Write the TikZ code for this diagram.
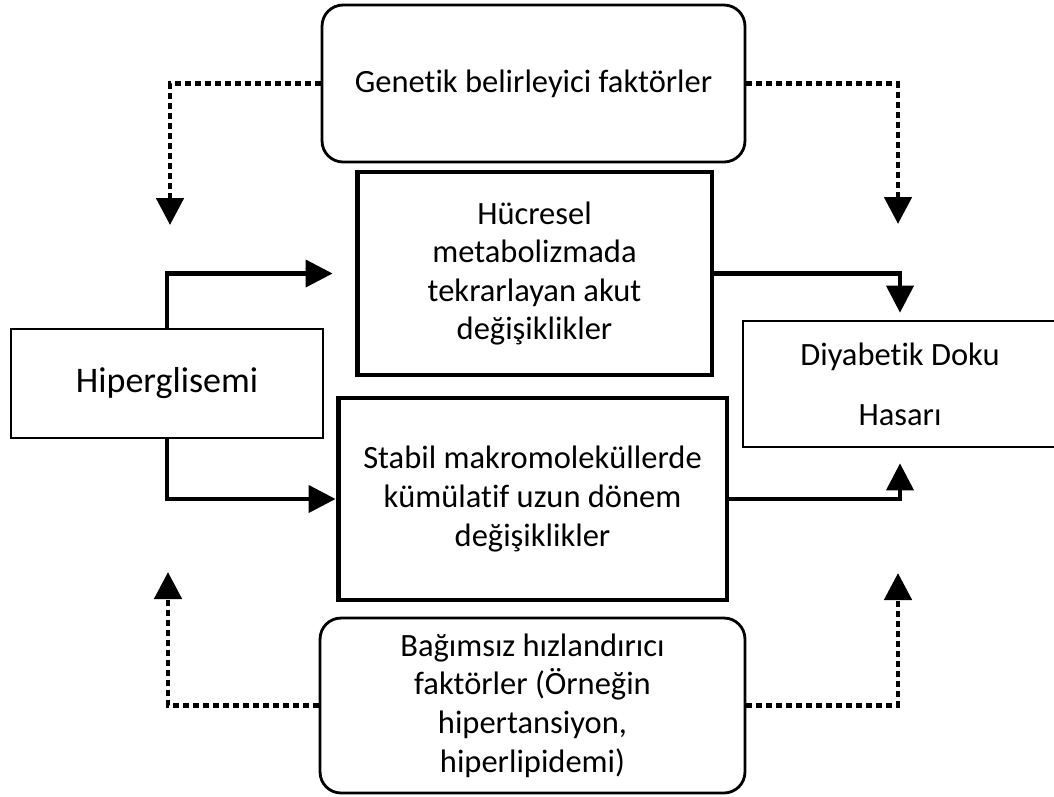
\documentclass[tikz,border=0pt]{standalone}
\usepackage{fontspec}
\setmainfont[Ligatures={NoCommon}]{Carlito}
\usetikzlibrary{arrows.meta}
\begin{document}
\begin{tikzpicture}[x=0.02cm,y=-0.02cm,
    txt/.style={align=center,font=\fontsize{18.5}{22}\selectfont,inner sep=0pt},
    roundbox/.style={txt,draw,line width=1.6pt,rounded corners=0.42cm},
    thickbox/.style={txt,draw,line width=2.8pt},
    thinbox/.style={txt,draw,line width=1pt},
    flow/.style={line width=2.3pt,-{Triangle[length=0.54cm,width=0.54cm]}},
    dotflow/.style={flow,line width=2.8pt,dash pattern=on 0.12cm off 0.08cm}]
  \useasboundingbox (0,0) rectangle (1054,796);
  \node[roundbox,minimum width=8.46cm,minimum height=3.14cm] (genetik) at (533.5,83.5)
    {Genetik belirleyici faktörler};
  \node[thickbox,minimum width=7.1cm,minimum height=4.06cm] (hucresel) at (534.5,273.5)
    {Hücresel\\metabolizmada\\tekrarlayan akut\\değişiklikler};
  \node[thickbox,minimum width=7.78cm,minimum height=4.04cm] (stabil) at (532.5,499)
    {Stabil makromoleküllerde\\kümülatif uzun dönem\\değişiklikler};
  \node[roundbox,minimum width=8.5cm,minimum height=3.5cm] (bagimsiz) at (532.5,705.5)
    {Bağımsız hızlandırıcı\\faktörler (Örneğin\\hipertansiyon,\\hiperlipidemi)};
  \node[thinbox,minimum width=6.24cm,minimum height=2.18cm,font=\fontsize{20.5}{24}\selectfont] (hiper) at (167,383.5)
    {Hiperglisemi};
  \node[txt,minimum width=6.28cm,minimum height=2.52cm] (hasar) at (900,384)
    {Diyabetik Doku\\[0.42cm]Hasarı};
  \draw[line width=1pt] ([xshift=1cm]hasar.north east) -- (hasar.north west)
    -- (hasar.south west) -- ([xshift=1cm]hasar.south east);
  \coordinate (gl) at (170,225);
  \coordinate (gr) at (898,224);
  \coordinate (bl) at (168,572);
  \coordinate (br) at (898,573);
  \begin{scope}[flow]
    \draw[shorten >=0.44cm] (hiper.north) |- (hucresel.west);
    \draw (hiper.south) |- (stabil.west);
    \draw[shorten >=0.16cm] (hucresel.east) -| (hasar.north);
    \draw[shorten >=0.32cm] (stabil.east) -| (hasar.south);
  \end{scope}
  \begin{scope}[dotflow]
    \draw (genetik.west) -| (gl);
    \draw (genetik.east) -| (gr);
    \draw (bagimsiz.west) -| (bl);
    \draw (bagimsiz.east) -| (br);
  \end{scope}
\end{tikzpicture}
\end{document}
